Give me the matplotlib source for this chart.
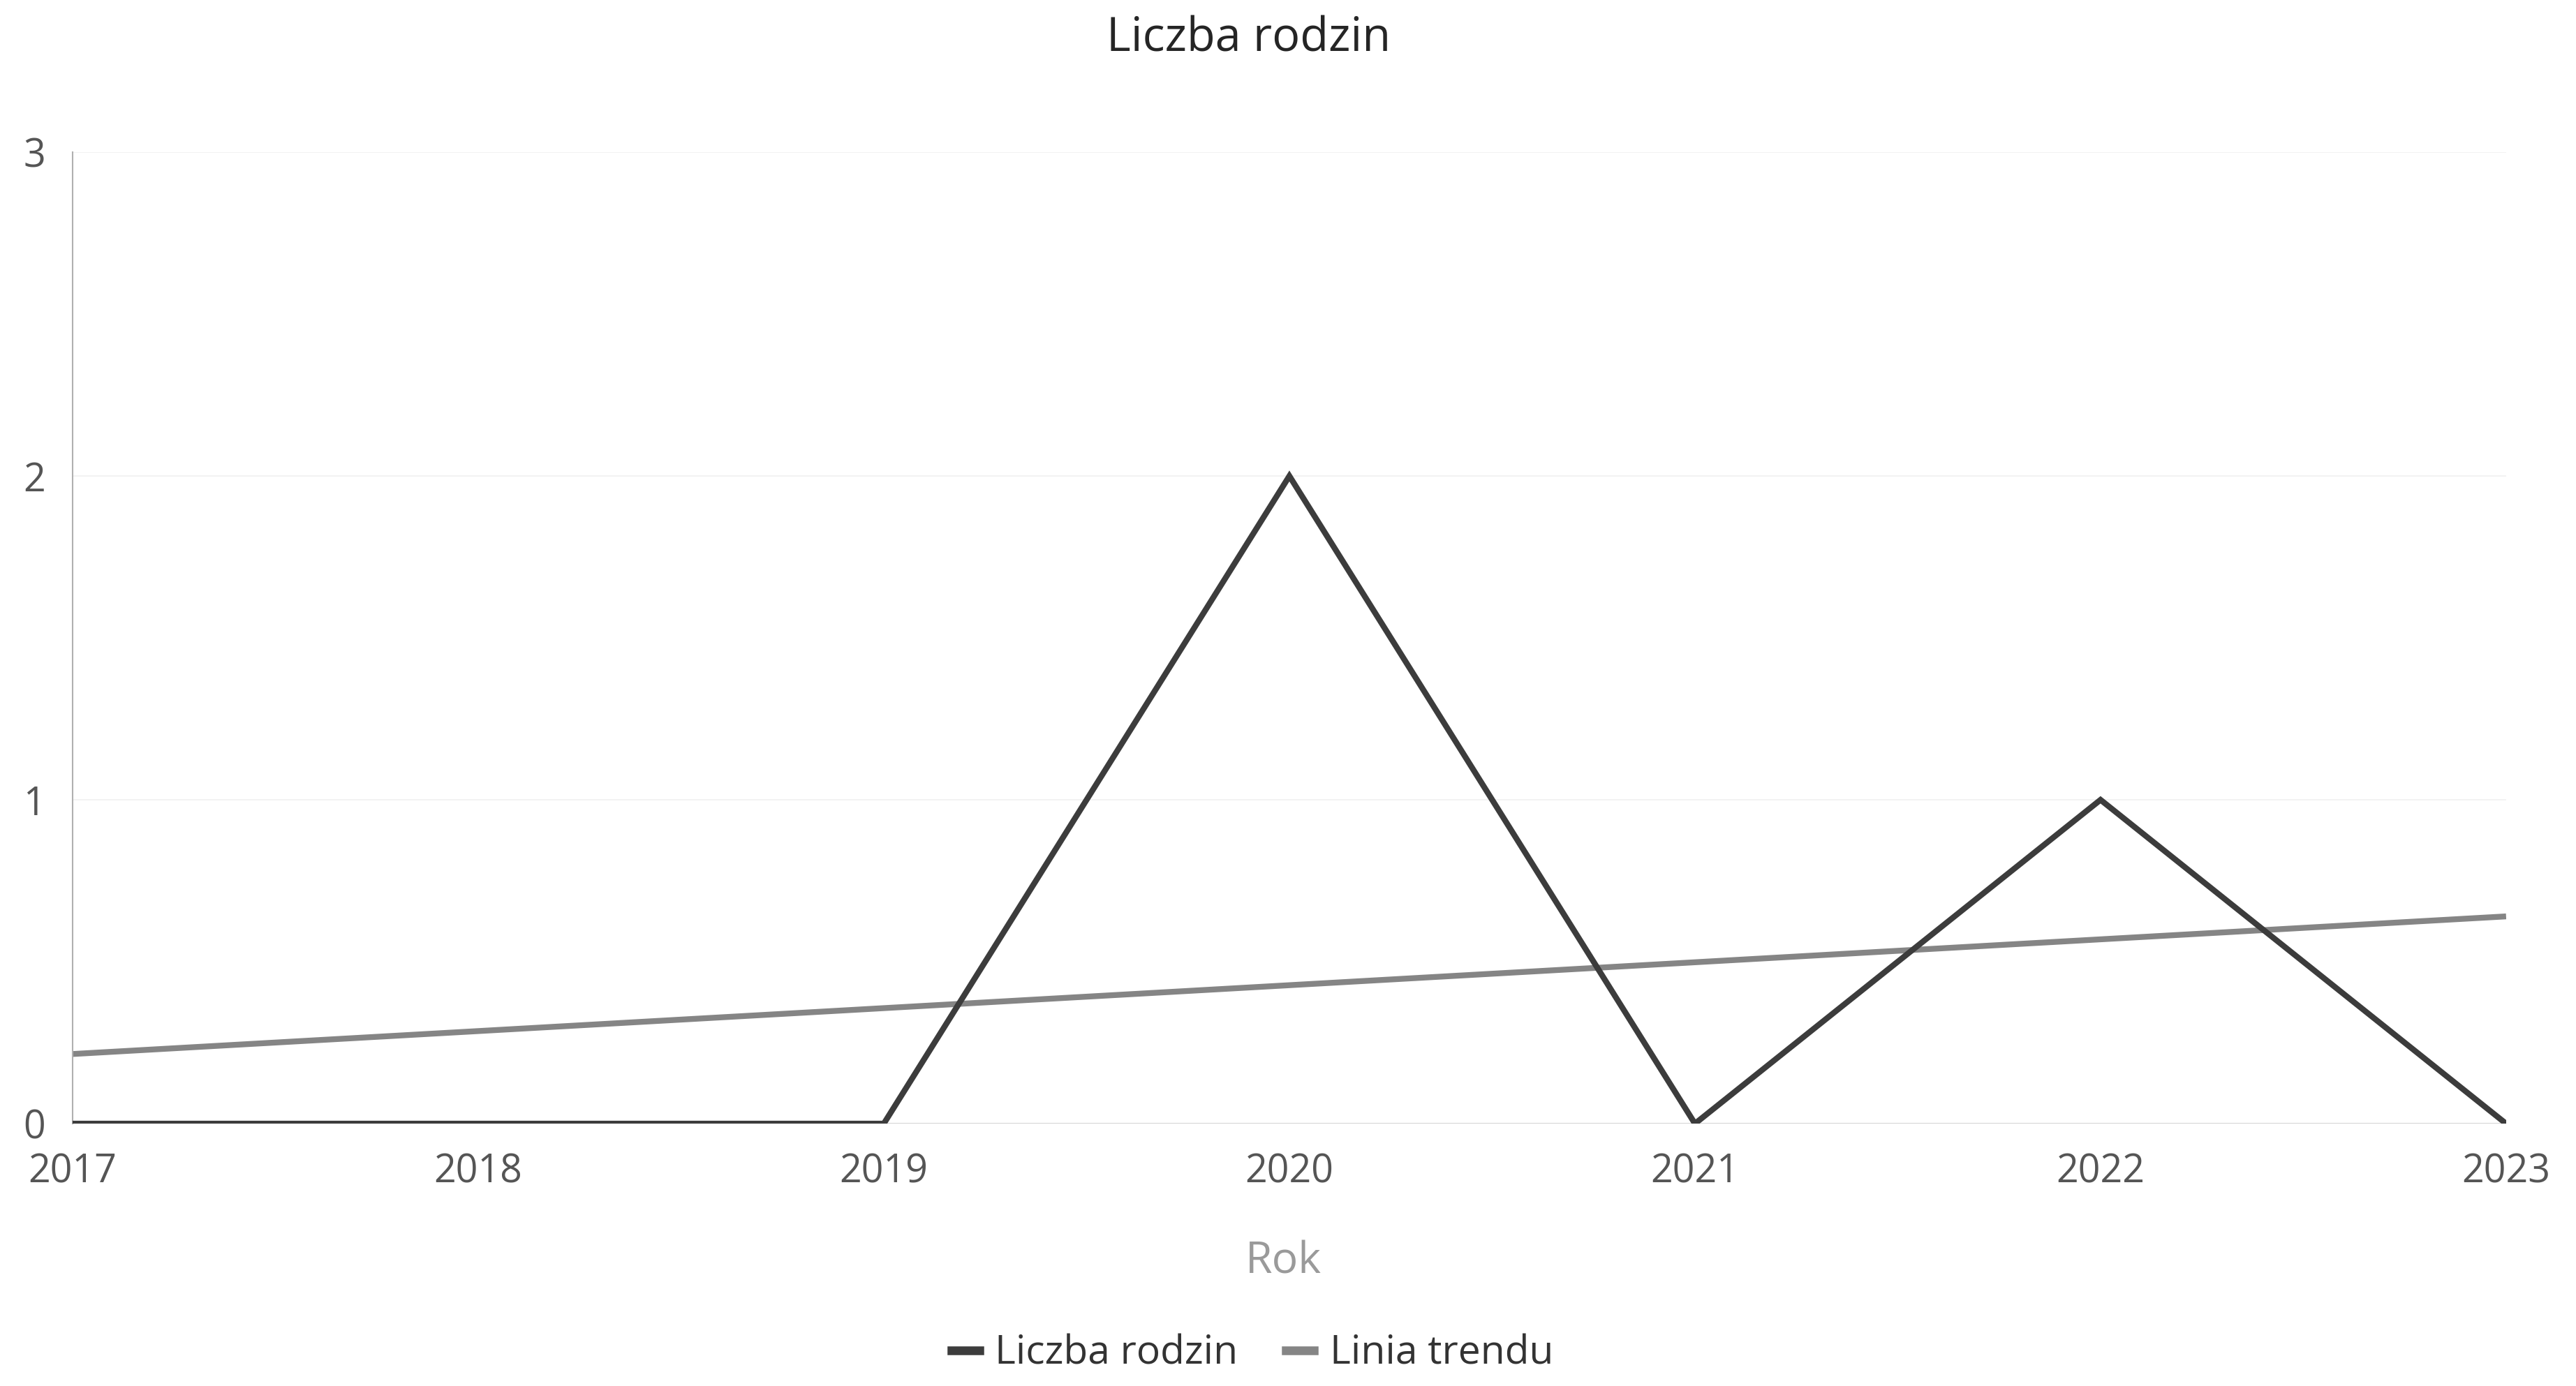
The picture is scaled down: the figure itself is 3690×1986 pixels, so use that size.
import matplotlib
matplotlib.use("Agg")
import matplotlib.pyplot as plt
from matplotlib.lines import Line2D

years = [2017, 2018, 2019, 2020, 2021, 2022, 2023]
families = [0, 0, 0, 2, 0, 1, 0]
trend_years = [2017, 2023]
trend_values = [0.215, 0.64]
y_ticks = [0, 1, 2, 3]

plt.rcParams['font.family'] = ['Open Sans', 'DejaVu Sans']

fig = plt.figure(figsize=(36.91, 19.86), dpi=100)
ax = fig.add_axes([0.0282, 0.1893, 0.9444, 0.7009])

for y in y_ticks[1:]:
    ax.axhline(y, color='#f0f0f0', lw=1.2, zorder=0)
ax.axhline(0, color='#d4d4d4', lw=1.5, zorder=1)

ax.plot(trend_years, trend_values, color='#858585', lw=6.0, solid_capstyle='butt', zorder=2)
ax.plot(years, families, color='#3c3c3c', lw=6.0, solid_joinstyle='miter', zorder=3)

ax.set_xlim(2017, 2023)
ax.set_ylim(0, 3)
ax.set_xticks(years)
ax.set_yticks(y_ticks)
ax.tick_params(axis='x', length=0, pad=30, labelsize=40, labelcolor='#555555')
ax.tick_params(axis='y', length=0, pad=28, labelsize=40, labelcolor='#555555')

for s in ['top', 'right', 'bottom']:
    ax.spines[s].set_visible(False)
ax.spines['left'].set_color('#b0b0b0')
ax.spines['left'].set_linewidth(1.5)
ax.spines['left'].set_linestyle((0, (1, 1)))

fig.text(0.4847, 0.972, 'Liczba rodzin', ha='center', va='center', fontsize=48, color='#252525')
fig.text(0.498, 0.0896, 'Rok', ha='center', va='center', fontsize=45, color='#9a9a9a')

handles = [Line2D([0], [0], color='#3c3c3c', lw=9),
           Line2D([0], [0], color='#858585', lw=9)]
fig.legend(handles, ['Liczba rodzin', 'Linia trendu'], loc='center',
           bbox_to_anchor=(0.486, 0.023), ncol=2, frameon=False, fontsize=41,
           handlelength=0.7, handletextpad=0.4, columnspacing=1.2,
           labelcolor='#333333')

fig.savefig('out.png', dpi=100, facecolor='white')
